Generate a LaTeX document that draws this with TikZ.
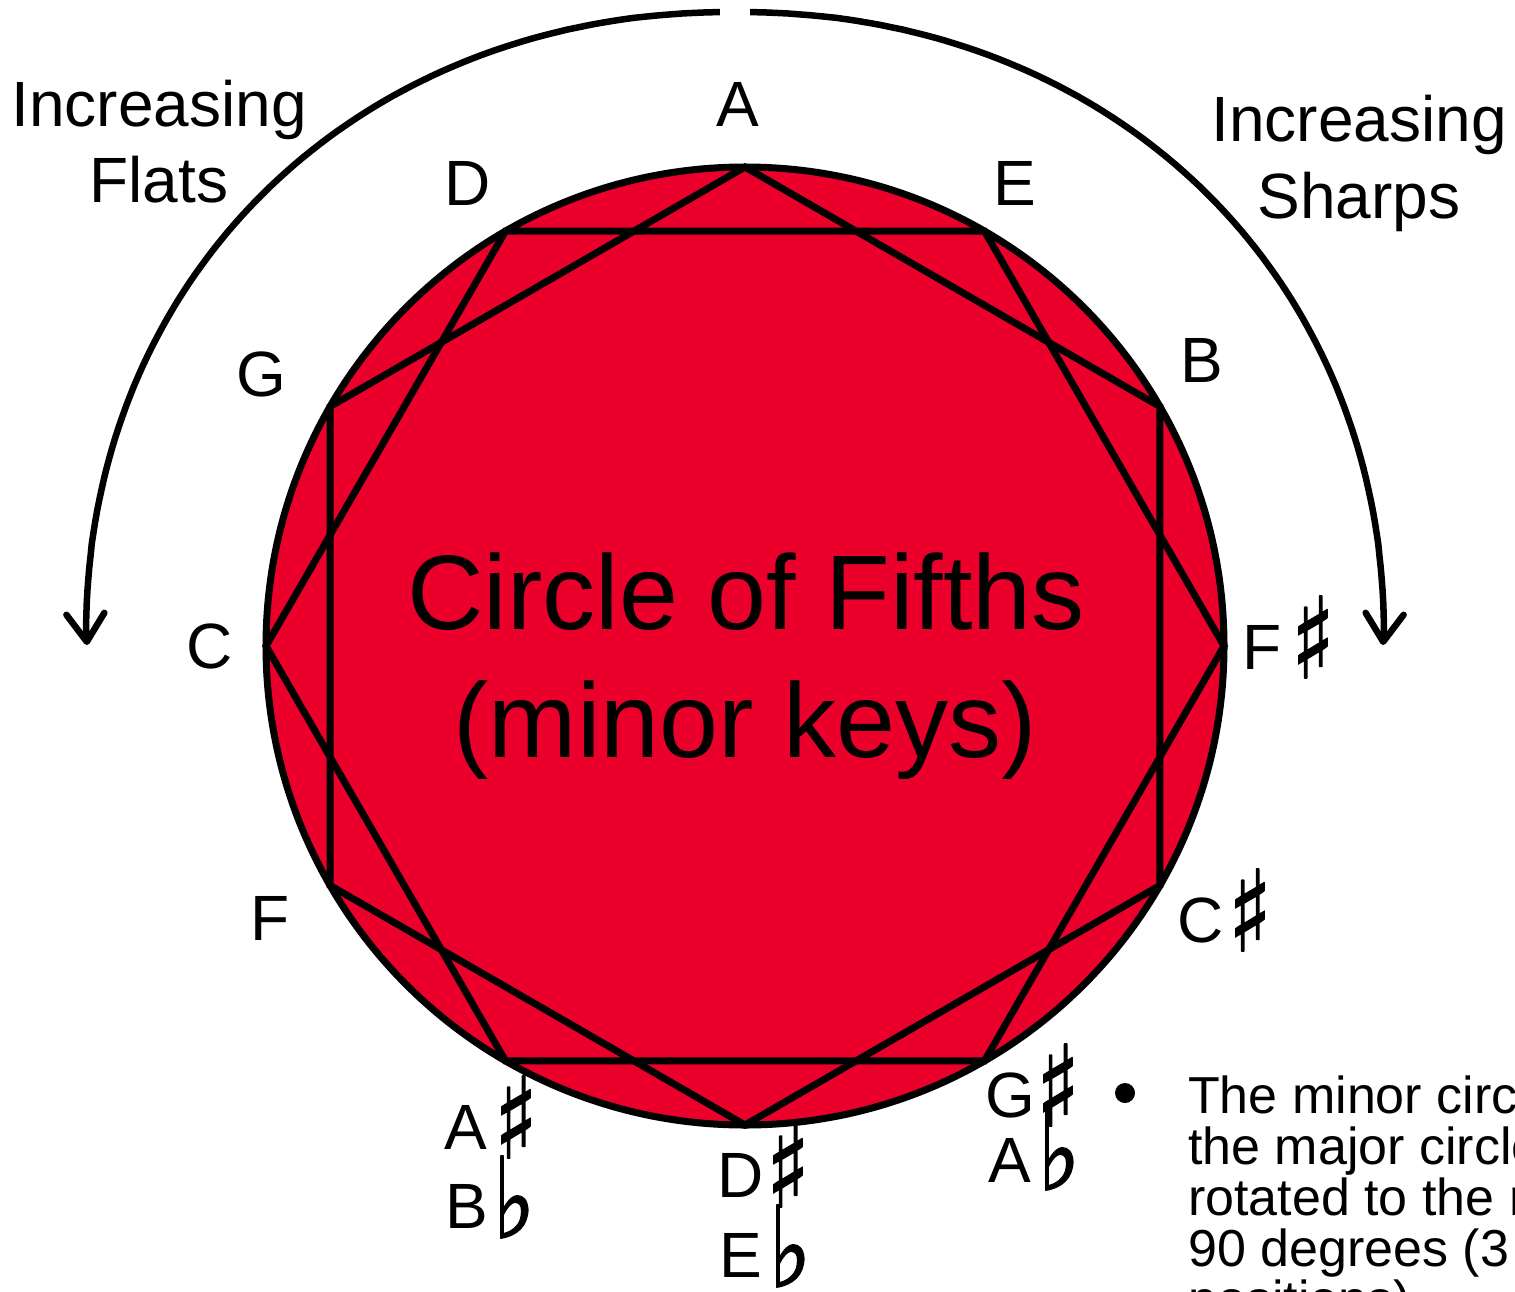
\documentclass[tikz,border=0pt]{standalone}
\usepackage{fontspec}
\setmainfont{Liberation Sans}
\newfontfamily\symfont{DejaVu Sans}[FakeBold=1.5]
\usetikzlibrary{arrows.meta}
\definecolor{keyred}{RGB}{235,0,43}
\begin{document}
\begin{tikzpicture}[x=1pt,y=-1pt,
  ln/.style={line width=7pt, line join=miter},
  lab/.style={font=\fontsize{64}{64}\selectfont, inner sep=0pt, anchor=base},
  bigtitle/.style={font=\fontsize{106}{106}\selectfont, inner sep=0pt, anchor=base},
  notetext/.style={font=\fontsize{52}{52}\selectfont, inner sep=0pt, anchor=base west},
  acc/.style={font=\symfont\fontsize{112}{112}\selectfont, inner sep=0pt, anchor=center, xscale=0.8},
  curvearrow/.style={line width=6.5pt, -{Straight Barb[length=28pt,width=38pt,round]}}
]
\useasboundingbox (0,0) rectangle (1515,1291);
\clip (0,0) rectangle (1515,1291);

% big circle with two hexagons
\draw[ln, fill=keyred] (745,646) circle[radius=479];
\foreach \k in {0,...,11} {
  \coordinate (P\k) at ({745+479*cos(30*\k)}, {646-479*sin(30*\k)});
}
\draw[ln] (P0) -- (P2) -- (P4) -- (P6) -- (P8) -- (P10) -- cycle;
\draw[ln] (P1) -- (P3) -- (P5) -- (P7) -- (P9) -- (P11) -- cycle;

% curved arrows
\coordinate (tipL) at (87,645);
\coordinate (tipR) at (1383,645);
\draw[curvearrow] plot[domain=91.1:179, samples=90, variable=\t]
  ({735-649*pow(abs(cos(\t)),0.952)}, {640-628*pow(abs(sin(\t)),0.952)}) -- (tipL);
\draw[curvearrow] plot[domain=88.9:1, samples=90, variable=\t]
  ({735+649*pow(abs(cos(\t)),0.952)}, {640-628*pow(abs(sin(\t)),0.952)}) -- (tipR);

% side captions
\node[lab] (incF1) at (159,126) {Increasing};
\node[lab] (incF2) at (159,202) {Flats};
\node[lab] (incS1) at (1359,141) {Increasing};
\node[lab] (incS2) at (1359,218) {Sharps};

% centre text
\node[bigtitle] (t1) at (746,629) {Circle of Fifths};
\node[bigtitle] (t2) at (745,757) {(minor keys)};

% key labels
\node[lab] (nA) at (738,126) {A};
\node[lab] (nE) at (1015,205) {E};
\node[lab] (nB) at (1202,382) {B};
\node[lab] (nFs) at (1262,669) {F};
\node[acc] (sFs) at (1313,637) {♯};
\node[lab] (nCs) at (1201,942) {C};
\node[acc] (sCs) at (1250,910) {♯};
\node[lab] (nGs) at (1010,1117) {G};
\node[acc] (sGs) at (1058,1085) {♯};
\node[lab] (nAb) at (1010,1182) {A};
\node[acc] (fAb) at (1059,1149) {♭};
\node[lab] (nDs) at (741,1197) {D};
\node[acc] (sDs) at (788,1166) {♯};
\node[lab] (nEb) at (741,1277) {E};
\node[acc] (fEb) at (790,1246) {♭};
\node[lab] (nAs) at (466,1149) {A};
\node[acc] (sAs) at (516,1117) {♯};
\node[lab] (nBb) at (467,1228) {B};
\node[acc] (fBb) at (514,1197) {♭};
\node[lab] (nF) at (270,940) {F};
\node[lab] (nC) at (210,668) {C};
\node[lab] (nG) at (261,396) {G};
\node[lab] (nD) at (468,205) {D};

% bullet note
\fill (1125,1093) circle[radius=10];
\node[notetext] (l1) at (1188,1113) {The minor circle is};
\node[notetext] (l2) at (1188,1164) {the major circle};
\node[notetext] (l3) at (1188,1215) {rotated to the right};
\node[notetext] (l4) at (1188,1266) {90 degrees (3};
\node[notetext] (l5) at (1188,1317) {positions)};
\end{tikzpicture}
\end{document}
